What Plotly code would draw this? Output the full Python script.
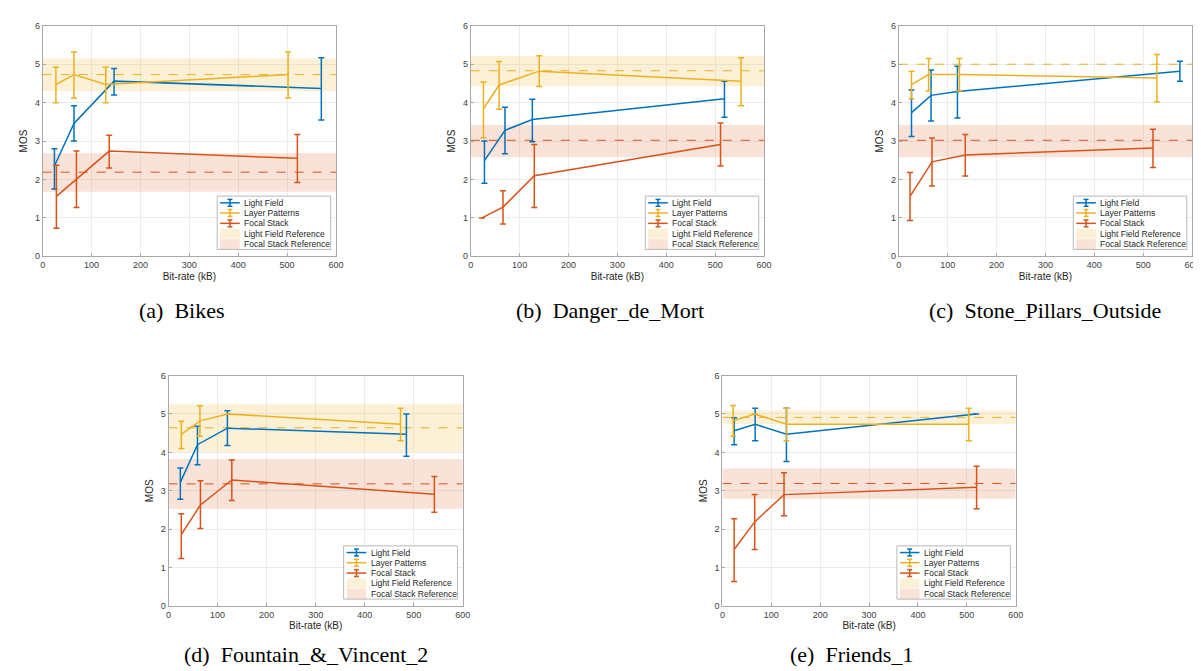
import plotly.graph_objects as go

# ---------------- data (one row per panel) ----------------
panel_names = ["Bikes", "Danger_de_Mort", "Stone_Pillars_Outside",
               "Fountain_&_Vincent_2", "Friends_1"]
panel_letters = ["a", "b", "c", "d", "e"]

# Light Field
lf_x = [[24, 64, 146, 570], [28, 70, 126, 519], [26, 66, 120, 575],
        [24, 59, 120, 485], [24, 67, 131, 519]]
lf_y = [[2.35, 3.46, 4.56, 4.37], [2.49, 3.28, 3.56, 4.10], [3.74, 4.19, 4.29, 4.82],
        [3.22, 4.20, 4.63, 4.47], [4.56, 4.73, 4.47, 5.00]]
lf_lo = [[1.75, 3.00, 4.20, 3.55], [1.90, 2.67, 2.98, 3.62], [3.12, 3.52, 3.60, 4.56],
         [2.78, 3.68, 4.18, 3.90], [4.20, 4.30, 3.76, 5.00]]
lf_hi = [[2.80, 3.92, 4.89, 5.17], [3.00, 3.88, 4.09, 4.56], [4.33, 4.85, 4.95, 5.08],
         [3.59, 4.68, 5.08, 5.00], [4.90, 5.15, 5.15, 5.00]]

# Layer Patterns
lp_x = [[27, 64, 129, 502], [26, 58, 140, 553], [26, 61, 124, 528],
        [26, 64, 121, 473], [22, 66, 131, 504]]
lp_y = [[4.47, 4.73, 4.47, 4.73], [3.84, 4.46, 4.82, 4.56], [4.47, 4.73, 4.73, 4.64],
        [4.47, 4.82, 5.00, 4.73], [4.82, 5.00, 4.73, 4.73]]
lp_lo = [[4.00, 4.12, 4.00, 4.12], [3.08, 3.83, 4.42, 3.92], [4.10, 4.30, 4.30, 4.02],
         [4.10, 4.42, 5.00, 4.30], [4.42, 5.00, 4.30, 4.30]]
lp_hi = [[4.92, 5.32, 4.92, 5.32], [4.54, 5.07, 5.22, 5.17], [4.82, 5.15, 5.15, 5.25],
         [4.81, 5.21, 5.00, 5.15], [5.22, 5.00, 5.15, 5.15]]

# Focal Stack
fs_x = [[28, 69, 136, 521], [23, 66, 130, 511], [23, 68, 136, 520],
        [26, 65, 129, 542], [24, 66, 126, 520]]
fs_y = [[1.56, 2.00, 2.74, 2.55], [1.00, 1.28, 2.10, 2.91], [1.56, 2.46, 2.64, 2.82],
        [1.86, 2.63, 3.28, 2.91], [1.47, 2.19, 2.90, 3.09]]
fs_lo = [[0.73, 1.27, 2.30, 1.92], [1.00, 0.84, 1.27, 2.35], [0.93, 1.83, 2.09, 2.31],
         [1.24, 2.02, 2.75, 2.44], [0.64, 1.47, 2.35, 2.53]]
fs_hi = [[2.37, 2.74, 3.15, 3.17], [1.00, 1.71, 2.91, 3.47], [2.18, 3.08, 3.17, 3.31],
         [2.40, 3.26, 3.80, 3.37], [2.27, 2.90, 3.47, 3.64]]

# References (mean, band low, band high)
lfref_mean = [4.73, 4.83, 5.00, 4.64, 4.91]
lfref_lo = [4.30, 4.43, 5.00, 4.00, 4.74]
lfref_hi = [5.15, 5.22, 5.00, 5.25, 5.09]
fsref_mean = [2.19, 3.02, 3.02, 3.18, 3.19]
fsref_lo = [1.68, 2.58, 2.58, 2.53, 2.79]
fsref_hi = [2.68, 3.42, 3.42, 3.83, 3.58]

x_ticks = [0, 100, 200, 300, 400, 500, 600]
y_ticks = [0, 1, 2, 3, 4, 5, 6]
x_range = [0, 600]
y_range = [0, 6]

series_labels = ["Light Field", "Layer Patterns", "Focal Stack",
                 "Light Field Reference", "Focal Stack Reference"]

# ---------------- style ----------------
W, H = 1201, 671
BLUE = "#0072BD"
YELLOW = "#EDB120"
ORANGE = "#D95319"
LF_BAND = "rgba(237,177,32,0.18)"
FS_BAND = "rgba(217,83,25,0.17)"
FONT = "Liberation Sans, Arial, sans-serif"
TICK_COLOR = "#404040"

# axes boxes in pixels: (left, top, right, bottom)
boxes = [(32, 13, 328, 247), (464, 13, 760, 247), (896, 13, 1192, 247),
         (159, 368, 456, 602), (718, 368, 1014, 602)]
captions_xy = [(173, 302), (605, 302), (1044, 302), (298, 651), (848, 651)]

fig = go.Figure()
shapes = []
annotations = []

for i in range(5):
    n = "" if i == 0 else str(i + 1)
    xa, ya = "x" + n, "y" + n
    l, t, r, b = boxes[i]

    # reference bands
    for lo, hi, col in [(lfref_lo[i], lfref_hi[i], LF_BAND),
                        (fsref_lo[i], fsref_hi[i], FS_BAND)]:
        fig.add_trace(go.Scatter(
            x=[x_range[0], x_range[1], x_range[1], x_range[0], x_range[0]],
            y=[lo, lo, hi, hi, lo], mode="lines", fill="toself",
            fillcolor=col, line=dict(width=0), hoverinfo="skip",
            showlegend=False, xaxis=xa, yaxis=ya))
    # reference dashed lines
    for m, col in [(lfref_mean[i], YELLOW), (fsref_mean[i], ORANGE)]:
        fig.add_trace(go.Scatter(
            x=x_range, y=[m, m], mode="lines",
            line=dict(color=col, width=1, dash="dash"),
            showlegend=False, xaxis=xa, yaxis=ya))
    # series with error bars
    for xs, ys, los, his, col in [(lf_x[i], lf_y[i], lf_lo[i], lf_hi[i], BLUE),
                                  (lp_x[i], lp_y[i], lp_lo[i], lp_hi[i], YELLOW),
                                  (fs_x[i], fs_y[i], fs_lo[i], fs_hi[i], ORANGE)]:
        fig.add_trace(go.Scatter(
            x=xs, y=ys, mode="lines", line=dict(color=col, width=1.5),
            error_y=dict(type="data", symmetric=False,
                         array=[h - y for h, y in zip(his, ys)],
                         arrayminus=[y - lo for y, lo in zip(ys, los)],
                         color=col, thickness=1.5, width=3),
            showlegend=False, xaxis=xa, yaxis=ya))

    axis_common = dict(showline=True, mirror=True, linecolor="#a8a8a8",
                       linewidth=1, showgrid=True, gridcolor="#ececec",
                       gridwidth=1, zeroline=False, ticks="inside", ticklen=3,
                       tickcolor="#a8a8a8",
                       tickfont=dict(family=FONT, size=9, color=TICK_COLOR))
    fig.update_layout(**{
        ("xaxis" + n): dict(axis_common, domain=[l / W, r / W], anchor=ya,
                            range=x_range, tickvals=x_ticks,
                            title=dict(text="Bit-rate (kB)", standoff=3,
                                       font=dict(family=FONT, size=10, color="#262626"))),
        ("yaxis" + n): dict(axis_common, domain=[1 - b / H, 1 - t / H], anchor=xa,
                            range=y_range, tickvals=y_ticks,
                            title=dict(text="MOS", standoff=5,
                                       font=dict(family=FONT, size=10, color="#262626"))),
    })

    # ----- legend (drawn in axis-domain coordinates) -----
    aw, ah = r - l, b - t
    xr, yr = xa + " domain", ya + " domain"
    shapes.append(dict(type="rect", xref=xr, yref=yr, x0=0.595, x1=0.982,
                       y0=0.030, y1=0.261, fillcolor="white",
                       line=dict(color="#b8b8b8", width=1), layer="above"))
    rows = [0.232, 0.188, 0.143, 0.098, 0.053]
    gx0, gx1 = 0.605, 0.672
    gxc = (gx0 + gx1) / 2
    for k, col in enumerate([BLUE, YELLOW, ORANGE]):
        yy = rows[k]
        dv = 3.5 / ah
        dc = 2.5 / aw
        shapes.append(dict(type="line", xref=xr, yref=yr, x0=gx0, x1=gx1, y0=yy, y1=yy,
                           line=dict(color=col, width=1.5), layer="above"))
        shapes.append(dict(type="line", xref=xr, yref=yr, x0=gxc, x1=gxc, y0=yy - dv, y1=yy + dv,
                           line=dict(color=col, width=1.5), layer="above"))
        for s in (-1, 1):
            shapes.append(dict(type="line", xref=xr, yref=yr, x0=gxc - dc, x1=gxc + dc,
                               y0=yy + s * dv, y1=yy + s * dv,
                               line=dict(color=col, width=1.5), layer="above"))
    for k, col in [(3, LF_BAND), (4, FS_BAND)]:
        yy = rows[k]
        dp = 5 / ah
        shapes.append(dict(type="rect", xref=xr, yref=yr, x0=gx0, x1=gx1,
                           y0=yy - dp, y1=yy + dp, fillcolor=col,
                           line=dict(width=0), layer="above"))
    for k, lab in enumerate(series_labels):
        annotations.append(dict(xref=xr, yref=yr, x=0.680, y=rows[k], text=lab,
                                showarrow=False, xanchor="left", yanchor="middle",
                                font=dict(family=FONT, size=8.5, color="#262626")))

    # caption
    cx, cy = captions_xy[i]
    annotations.append(dict(xref="paper", yref="paper", x=cx / W, y=1 - cy / H,
                            text="(" + panel_letters[i] + ")\u00a0\u00a0" + panel_names[i],
                            showarrow=False, xanchor="center", yanchor="middle",
                            font=dict(family="Liberation Serif, Times New Roman, serif",
                                      size=22, color="black")))

fig.update_layout(width=W, height=H, margin=dict(l=0, r=0, t=0, b=0),
                  paper_bgcolor="white", plot_bgcolor="white",
                  showlegend=False, shapes=shapes, annotations=annotations)

fig.write_html("out.html")
